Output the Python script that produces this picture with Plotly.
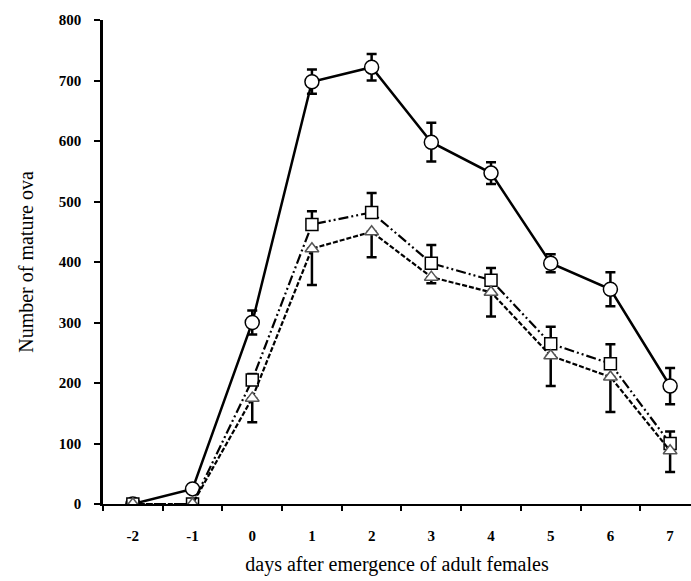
import plotly.graph_objects as go

days = [-2, -1, 0, 1, 2, 3, 4, 5, 6, 7]
circle_vals = [0, 25, 300, 698, 722, 598, 547, 398, 355, 195]
circle_err = [0, 0, 20, 20, 22, 32, 18, 15, 28, 30]
square_vals = [0, 0, 205, 462, 482, 398, 370, 265, 232, 100]
square_err_up = [0, 0, 10, 22, 32, 30, 20, 28, 32, 20]
tri_vals = [0, 0, 175, 422, 450, 375, 350, 245, 210, 88]
tri_err_down = [0, 0, 40, 60, 42, 10, 40, 50, 58, 35]
y_ticks = [0, 100, 200, 300, 400, 500, 600, 700, 800]
x_minor_ticks = [-2.5, -1.5, -0.5, 0.5, 1.5, 2.5, 3.5, 4.5, 5.5, 6.5]

FONT = "Liberation Serif"
fig = go.Figure()

fig.add_trace(go.Scatter(
    x=days, y=circle_vals, mode="lines+markers",
    line=dict(color="black", width=2.5),
    marker=dict(symbol="circle", size=14, color="white", line=dict(color="black", width=1.5)),
    error_y=dict(type="data", array=circle_err, color="black", thickness=2.5, width=5),
))
fig.add_trace(go.Scatter(
    x=days, y=square_vals, mode="lines+markers",
    line=dict(color="black", width=2.2, dash="10px,3px,2px,3px,2px,3px"),
    marker=dict(symbol="square", size=12, color="white", line=dict(color="black", width=1.5)),
    error_y=dict(type="data", symmetric=False, array=square_err_up, arrayminus=[0]*10,
                 color="black", thickness=2.5, width=5),
))
fig.add_trace(go.Scatter(
    x=days, y=tri_vals, mode="lines+markers",
    line=dict(color="black", width=2.2, dash="5px,2px"),
    marker=dict(symbol="triangle-up", size=12, color="white", line=dict(color="#555", width=1.5)),
    error_y=dict(type="data", symmetric=False, array=[0]*10, arrayminus=tri_err_down,
                 color="black", thickness=2.5, width=5),
))
fig.add_trace(go.Scatter(x=[x_minor_ticks[0]], y=[0], xaxis="x2", mode="markers",
                         marker=dict(opacity=0), hoverinfo="skip"))

xr = [-2.5, 7.35]
fig.update_layout(
    width=691, height=581,
    margin=dict(l=103, r=0, t=20, b=77),
    paper_bgcolor="white", plot_bgcolor="white",
    showlegend=False,
    font=dict(family=FONT, color="black"),
    xaxis=dict(range=xr, tickvals=days, ticktext=[str(d) for d in days], ticks="",
               automargin=False,
               showline=True, linecolor="black", linewidth=2, showgrid=False, zeroline=False,
               tickfont=dict(family=FONT, size=15, color="black", weight="bold"),
               ticklabelstandoff=17,
               title=dict(text="days after emergence of adult females", standoff=14,
                          font=dict(family=FONT, size=20, color="black"))),
    xaxis2=dict(range=xr, overlaying="x", anchor="y", side="bottom", tickvals=x_minor_ticks,
                showticklabels=False, ticks="outside", ticklen=6, tickwidth=2, tickcolor="black",
                showline=False, showgrid=False, zeroline=False, automargin=False),
    yaxis=dict(range=[0, 800], tickvals=y_ticks, ticks="outside", ticklen=6, tickwidth=2,
               automargin=False,
               tickcolor="black", showline=True, linecolor="black", linewidth=2.5,
               showgrid=False, zeroline=False, ticklabelstandoff=10,
               tickfont=dict(family=FONT, size=15, color="black", weight="bold"),
               title=dict(text="Number of mature ova", standoff=20,
                          font=dict(family=FONT, size=20, color="black"))),
)
fig.write_html("out.html", config={"displayModeBar": False},
               post_script="document.body.style.margin='0';document.body.style.padding='0';")
